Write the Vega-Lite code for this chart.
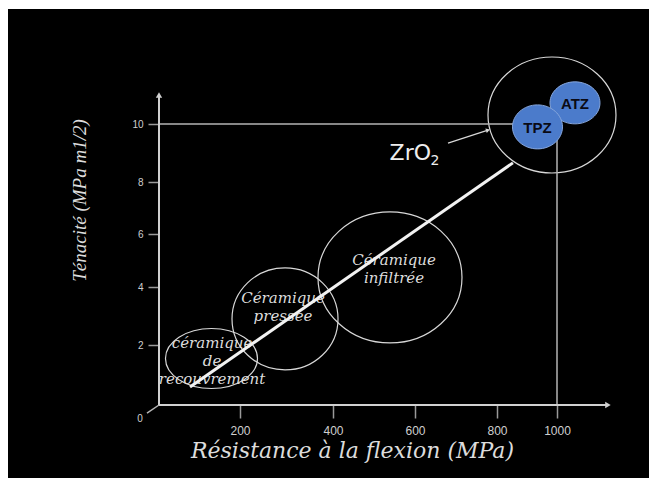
{
  "$schema": "https://vega.github.io/schema/vega-lite/v6.json",
  "width": 641,
  "height": 469,
  "autosize": {"type": "none"},
  "padding": {"left": 8, "top": 9, "right": 0, "bottom": 0},
  "background": "white",
  "config": {"view": {"fill": "black", "stroke": null}},
  "datasets": {
    "zones": [
      {"name": "recouvrement", "x": 129.6, "y": 1.55},
      {"name": "pressee", "x": 296.8, "y": 2.90},
      {"name": "infiltree", "x": 539, "y": 4.36},
      {"name": "ZrO2", "x": 983.3, "y": 10.31}
    ],
    "grades": [
      {"name": "ATZ", "x": 1060, "y": 10.73},
      {"name": "TPZ", "x": 935, "y": 9.90}
    ],
    "zoneLabels": [
      {"label": "céramique\nde\nrecouvrement", "x": 131, "y": 2.07},
      {"label": "Céramique\npressée", "x": 292.5, "y": 3.62},
      {"label": "Céramique\ninfiltrée", "x": 548.8, "y": 5.02}
    ],
    "axisLines": [
      {"x": 0, "y": 0, "x2": 0, "y2": 11.0},
      {"x": 0, "y": 0, "x2": 1170, "y2": 0}
    ],
    "axisArrows": [
      {"dir": "up", "x": 0, "y": 11.0},
      {"dir": "right", "x": 1170, "y": 0}
    ],
    "refLines": [
      {"x": 0, "y": 10, "x2": 1000, "y2": 10},
      {"x": 1000, "y": 0, "x2": 1000, "y2": 10},
      {"x": -29.7, "y": -0.27, "x2": 0, "y2": 0}
    ],
    "zeroLabel": [{"label": "0", "x": -47, "y": -0.47}],
    "trend": [{"x": 76.5, "y": 0.6}, {"x": 853, "y": 8.66}],
    "zro2": [{"label": "ZrO", "sub": "2", "x": 538, "y": 8.76}],
    "pointer": [{"x": 680.5, "y": 9.34, "x2": 778, "y2": 9.79}],
    "pointerHead": [{"x": 778, "y": 9.79}]
  },
  "encoding": {
    "x": {
      "field": "x", "type": "quantitative",
      "scale": {"domain": [-373, 0, 200, 400, 600, 800, 1000, 1307], "range": [0, 151, 232, 325, 407, 489, 549, 641], "nice": false, "zero": false},
      "axis": {
        "orient": "bottom", "offset": -73, "values": [200, 400, 600, 800, 1000], "format": "d",
        "domain": false, "grid": false,
        "tickSize": 13, "tickColor": "#9a9a9a", "tickWidth": 1.5,
        "labelColor": "#cfcfcf", "labelFont": "Liberation Sans", "labelFontSize": 12, "labelPadding": 7,
        "title": "Résistance à la flexion (MPa)",
        "titleFont": "DejaVu Serif", "titleFontStyle": "italic", "titleFontWeight": "normal",
        "titleFontSize": 22, "titleColor": "#dcdcdc",
        "titleX": 344, "titleY": 52, "titleAlign": "center", "titleBaseline": "alphabetic"
      }
    },
    "y": {
      "field": "y", "type": "quantitative",
      "scale": {"domain": [-2.43, 0, 2, 4, 6, 8, 10, 13.97], "range": [469, 396, 336, 278, 225, 173, 115, 0], "nice": false, "zero": false},
      "axis": {
        "orient": "left", "offset": -151, "values": [2, 4, 6, 8, 10], "format": "d",
        "domain": false, "grid": false,
        "tickSize": 11, "tickColor": "#9a9a9a", "tickWidth": 1.5,
        "labelColor": "#cfcfcf", "labelFont": "Liberation Sans", "labelFontSize": 10, "labelPadding": 5,
        "title": "Ténacité (MPa m1/2)",
        "titleFont": "Liberation Serif", "titleFontStyle": "italic", "titleFontWeight": "normal",
        "titleFontSize": 19, "titleColor": "#dcdcdc", "titleAngle": -90,
        "titleX": -80, "titleY": 191, "titleAlign": "center", "titleBaseline": "middle"
      }
    }
  },
  "layer": [
    {
      "data": {"name": "zones"},
      "mark": {"type": "point", "filled": false, "stroke": "#d8d8d8", "strokeWidth": 1.2, "size": 4, "opacity": 1},
      "encoding": {
        "shape": {"field": "name", "type": "nominal", "legend": null,
          "scale": {"domain": ["recouvrement", "pressee", "infiltree", "ZrO2", "TPZ", "ATZ"],
            "range": [
              "M-46,0A46,30,0,1,0,46,0A46,30,0,1,0,-46,0Z",
              "M-53,0A53,51,0,1,0,53,0A53,51,0,1,0,-53,0Z",
              "M-72,0A72,65.5,0,1,0,72,0A72,65.5,0,1,0,-72,0Z",
              "M-64,0A64,58,0,1,0,64,0A64,58,0,1,0,-64,0Z",
              "M-25,0A25,22,0,1,0,25,0A25,22,0,1,0,-25,0Z",
              "M-25,0A25,21,0,1,0,25,0A25,21,0,1,0,-25,0Z"
            ]}}
      }
    },
    {
      "data": {"name": "refLines"},
      "mark": {"type": "rule", "color": "#b5b5b5", "strokeWidth": 1.5},
      "encoding": {"x2": {"field": "x2"}, "y2": {"field": "y2"}}
    },
    {
      "data": {"name": "axisLines"},
      "mark": {"type": "rule", "color": "#d0d0d0", "strokeWidth": 2},
      "encoding": {"x2": {"field": "x2"}, "y2": {"field": "y2"}}
    },
    {
      "data": {"name": "axisArrows"},
      "transform": [{"filter": "datum.dir === 'up'"}],
      "mark": {"type": "point", "shape": "triangle-up", "filled": true, "color": "#d0d0d0", "size": 40, "opacity": 1},
      "encoding": {}
    },
    {
      "data": {"name": "axisArrows"},
      "transform": [{"filter": "datum.dir === 'right'"}],
      "mark": {"type": "point", "shape": "triangle-right", "filled": true, "color": "#d0d0d0", "size": 40, "opacity": 1},
      "encoding": {}
    },
    {
      "data": {"name": "zeroLabel"},
      "mark": {"type": "text", "font": "Liberation Sans", "fontSize": 10, "color": "#cfcfcf", "align": "center", "baseline": "middle"},
      "encoding": {"text": {"field": "label"}}
    },
    {
      "data": {"name": "zoneLabels"},
      "mark": {"type": "text", "font": "DejaVu Serif", "fontStyle": "italic", "fontSize": 15, "color": "#dcdcdc", "align": "center", "baseline": "middle", "lineBreak": "\n", "lineHeight": 18},
      "encoding": {"text": {"field": "label"}}
    },
    {
      "data": {"name": "trend"},
      "mark": {"type": "line", "color": "#f2f2f2", "strokeWidth": 3},
      "encoding": {}
    },
    {
      "data": {"name": "grades"},
      "mark": {"type": "point", "filled": true, "fill": "#4b7bcb", "stroke": "#86a6dc", "strokeWidth": 1, "size": 4, "opacity": 1},
      "encoding": {
        "shape": {"field": "name", "type": "nominal", "legend": null,
          "scale": {"domain": ["recouvrement", "pressee", "infiltree", "ZrO2", "TPZ", "ATZ"],
            "range": [
              "M-46,0A46,30,0,1,0,46,0A46,30,0,1,0,-46,0Z",
              "M-53,0A53,51,0,1,0,53,0A53,51,0,1,0,-53,0Z",
              "M-72,0A72,65.5,0,1,0,72,0A72,65.5,0,1,0,-72,0Z",
              "M-64,0A64,58,0,1,0,64,0A64,58,0,1,0,-64,0Z",
              "M-25,0A25,22,0,1,0,25,0A25,22,0,1,0,-25,0Z",
              "M-25,0A25,21,0,1,0,25,0A25,21,0,1,0,-25,0Z"
            ]}}
      }
    },
    {
      "data": {"name": "grades"},
      "mark": {"type": "text", "font": "Liberation Sans", "fontWeight": "bold", "fontSize": 15, "color": "#0a0a14", "align": "center", "baseline": "middle", "dy": 1},
      "encoding": {"text": {"field": "name"}}
    },
    {
      "data": {"name": "zro2"},
      "mark": {"type": "text", "font": "DejaVu Sans", "fontSize": 22, "color": "#eeeeee", "align": "left", "baseline": "alphabetic"},
      "encoding": {"text": {"field": "label"}}
    },
    {
      "data": {"name": "zro2"},
      "mark": {"type": "text", "font": "DejaVu Sans", "fontSize": 14, "color": "#eeeeee", "align": "left", "baseline": "alphabetic", "dx": 41, "dy": 5},
      "encoding": {"text": {"field": "sub"}}
    },
    {
      "data": {"name": "pointer"},
      "mark": {"type": "rule", "color": "#d8d8d8", "strokeWidth": 1.2},
      "encoding": {"x2": {"field": "x2"}, "y2": {"field": "y2"}}
    },
    {
      "data": {"name": "pointerHead"},
      "mark": {"type": "point", "shape": "triangle-right", "filled": true, "color": "#d8d8d8", "size": 22, "angle": -18, "opacity": 1},
      "encoding": {}
    }
  ]
}
